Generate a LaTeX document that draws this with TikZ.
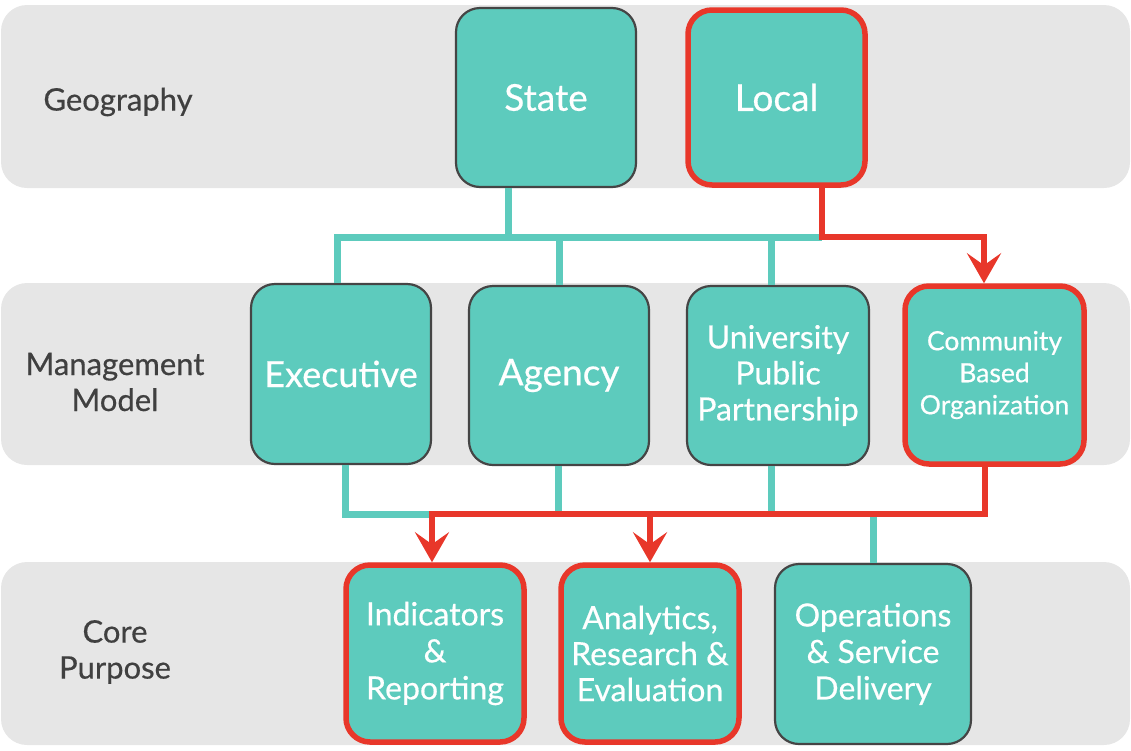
\documentclass[tikz,border=0pt]{standalone}
\usepackage{fontspec}
\setmainfont{Lato}[FakeBold=0.5]
\usetikzlibrary{arrows.meta}
\definecolor{teal1}{HTML}{5DCBBD}
\definecolor{redc}{HTML}{E8372A}
\definecolor{bandc}{HTML}{E6E6E6}
\definecolor{bord}{HTML}{454545}
\definecolor{lab}{HTML}{404040}
\tikzset{
  band/.style={fill=bandc, rounded corners=26pt},
  box/.style={rectangle, rounded corners=24pt, fill=teal1, draw=bord, line width=2.2pt,
    text=white, align=center, inner sep=0pt, font=\fontsize{32}{36}\selectfont},
  bigtext/.style={font=\fontsize{37}{40}\selectfont},
  hot/.style={draw=redc, line width=5.5pt},
  tline/.style={draw=teal1, line width=7pt},
  rline/.style={draw=redc, line width=6pt},
  rarrow/.style={rline, -{Stealth[length=30pt, width=34pt, inset=12pt]}},
  rowlab/.style={text=lab, align=center, font=\fontsize{31}{36}\selectfont}
}
\begin{document}
\begin{tikzpicture}[x=1pt, y=-1pt]
\useasboundingbox (0,0) rectangle (1131,750);
% bands
\fill[band] (1,5) rectangle (1130,188);
\fill[band] (1,283) rectangle (1130,465);
\fill[band] (1,562) rectangle (1130,745);
% labels
\node[rowlab] (lg) at (118,102) {Geography};
\node[rowlab] (lm) at (115,382) {Management\\Model};
\node[rowlab] (lc) at (115,652) {Core\\Purpose};
% nodes
\node[box, bigtext, minimum width=180pt, minimum height=179pt] (state) at (546,97.5) {State};
\node[box, hot, bigtext, minimum width=177pt, minimum height=175pt] (local) at (776.5,97.5) {Local};
\node[box, bigtext, minimum width=180pt, minimum height=180pt, font=\fontsize{36}{40}\selectfont] (exec) at (341,374) {Executive};
\node[box, bigtext, minimum width=180pt, minimum height=179pt] (agency) at (559,375.5) {Agency};
\node[box, minimum width=182pt, minimum height=179pt] (upp) at (778,375.5) {University\\Public\\Partnership};
\node[box, hot, minimum width=179pt, minimum height=178pt, font=\fontsize{26.5}{32}\selectfont] (cbo) at (994.5,375) {Community\\Based\\Organization};
\node[box, hot, minimum width=178pt, minimum height=177pt, font=\fontsize{32}{37}\selectfont] (ind) at (435,653.5) {Indicators\\\&\\Reporting};
\node[box, hot, minimum width=178pt, minimum height=177pt, font=\fontsize{32}{36}\selectfont] (ana) at (650,653.5) {Analytics,\\Research \&\\Evaluation};
\node[box, minimum width=196pt, minimum height=180pt, font=\fontsize{32}{36.5}\selectfont] (ops) at (873,654) {Operations\\\& Service\\Delivery};
% top connectors
\coordinate (tj) at (822,237);
\draw[tline] ([xshift=-38pt]state.south) -- ++(0,49);
\draw[tline] (exec.north -| 337,0) -- (337,237) -- (tj);
\draw[tline] (agency.north) -- (agency.north |- tj);
\draw[tline] (upp.north -| 771,0) -- (771,237);
\draw[rline] (local.south -| tj) -- (tj) -- (984,237);
\draw[rarrow] (984,234) -- (cbo.north -| 984,0);
% bottom connectors
\coordinate (bj) at (432,514);
\draw[tline] ([xshift=4pt]exec.south) -- (345,514) -- (bj);
\draw[tline] (agency.south -| 558,0) -- (558,514);
\draw[tline] (upp.south -| 771,0) -- (771,514);
\draw[tline] (873,514) -- (ops.north);
\draw[rline] ([xshift=-9.5pt]cbo.south) -- (985,514) -- (429,514);
\draw[rarrow] (bj) -- (ind.north -| bj);
\draw[rarrow] (650,514) -- (ana.north);
\end{tikzpicture}
\end{document}
